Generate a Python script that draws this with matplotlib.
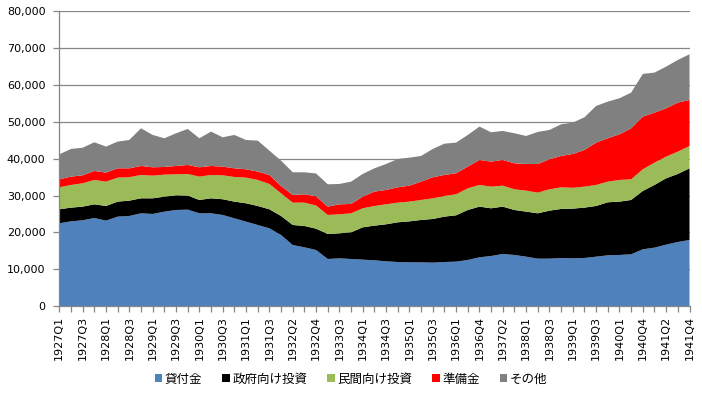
import matplotlib
matplotlib.use("Agg")
import matplotlib.pyplot as plt
from matplotlib.ticker import FuncFormatter, MultipleLocator
from matplotlib.patches import Patch

plt.rcParams['font.family'] = ['Noto Sans CJK JP', 'DejaVu Sans']

categories = [
    "1927Q1", "1927Q2", "1927Q3", "1927Q4",
    "1928Q1", "1928Q2", "1928Q3", "1928Q4",
    "1929Q1", "1929Q2", "1929Q3", "1929Q4",
    "1930Q1", "1930Q2", "1930Q3", "1930Q4",
    "1931Q1", "1931Q2", "1931Q3", "1931Q4",
    "1932Q2", "1932Q3", "1932Q4",
    "1933Q1", "1933Q3", "1933Q4",
    "1934Q1", "1934Q2", "1934Q3", "1934Q4",
    "1935Q1", "1935Q2", "1935Q3", "1935Q4",
    "1936Q1", "1936Q2", "1936Q4",
    "1937Q1", "1937Q2", "1937Q3",
    "1938Q1", "1938Q2", "1938Q3", "1938Q4",
    "1939Q1", "1939Q2", "1939Q3", "1939Q4",
    "1940Q1", "1940Q2", "1940Q4",
    "1941Q1", "1941Q2", "1941Q3", "1941Q4",
]

loans = [22460, 23000, 23280, 23910, 23190, 24270, 24450, 25180, 25000, 25630,
         26080, 26170, 25180, 25180, 24730, 23820, 22910, 22010, 21100, 19290,
         16570, 15940, 15220, 12770, 12950, 12770, 12590, 12410, 12140, 11950,
         11860, 11860, 11770, 11950, 12050, 12500, 13220, 13590, 14130, 13860,
         13400, 12860, 12860, 13040, 12950, 13040, 13400, 13770, 13860, 14040,
         15400, 15850, 16670, 17390, 17930]
gov_inv = [3810, 3720, 3710, 3710, 3980, 4080, 4170, 4070, 4250, 4070,
           3990, 3830, 3620, 4070, 4270, 4530, 4990, 5160, 5170, 5160,
           5440, 5800, 5780, 6790, 6790, 7250, 8780, 9420, 10050, 10780,
           11130, 11510, 11870, 12320, 12590, 13580, 13770, 12950, 12860, 12220,
           12230, 12320, 13040, 13320, 13500, 13680, 13770, 14400, 14490, 14760,
           15850, 17030, 18020, 18480, 19470]
priv_inv = [5970, 6160, 6340, 6620, 6610, 6520, 6380, 6340, 6150, 5980,
            5700, 5860, 6340, 6340, 6500, 6700, 6970, 7070, 6880, 6160,
            6070, 6340, 6300, 5170, 5160, 5160, 5170, 5340, 5430, 5350,
            5360, 5430, 5610, 5620, 5700, 5890, 5890, 5880, 5700, 5620,
            5710, 5610, 5800, 5880, 5650, 5700, 5710, 5610, 5890, 5620,
            5880, 6060, 5890, 6060, 6070]
reserves = [2160, 2260, 2170, 2440, 2450, 2530, 2400, 2450, 2280, 2090,
            2270, 2450, 2540, 2450, 2360, 2350, 2260, 2260, 2440, 1990,
            2080, 2260, 2500, 2260, 2720, 2530, 3160, 3900, 3900, 4160,
            4350, 4980, 5710, 5700, 5710, 5890, 6790, 6800, 6980, 7060,
            7240, 7790, 8150, 8520, 9200, 9970, 11500, 11780, 12400, 13850,
            14310, 13590, 13130, 13320, 12500]
others = [6800, 7520, 7500, 7790, 7070, 7250, 7700, 10230, 8780, 7790,
          8860, 9790, 7880, 9330, 7970, 9060, 7970, 8420, 6610, 6890,
          6160, 5980, 6200, 6070, 5530, 6070, 6170, 6330, 7060, 7700,
          7600, 6980, 7700, 8510, 8330, 8600, 9060, 7970, 7880, 8160,
          7610, 8700, 7970, 8600, 8510, 8870, 9960, 9960, 9790, 9690,
          11600, 10870, 11320, 11590, 12410]

series_names = ["貸付金", "政府向け投資", "民間向け投資", "準備金", "その他"]
colors = ["#4F81BD", "#000000", "#9BBB59", "#FF0000", "#808080"]

fig = plt.figure(figsize=(7.02, 3.99), dpi=100)
ax = fig.add_axes([0.0845, 0.2331, 0.8977, 0.7381])

x = list(range(len(categories)))
ax.stackplot(x, loans, gov_inv, priv_inv, reserves, others,
             colors=colors, linewidth=0, zorder=2)

ax.set_xlim(0, len(categories) - 1)
ax.set_ylim(0, 80000)
ax.yaxis.set_major_locator(MultipleLocator(10000))
ax.yaxis.set_major_formatter(FuncFormatter(lambda v, p: f"{int(v):,}"))
ax.grid(axis='y', color='#868686', linewidth=0.9, zorder=0)
ax.set_axisbelow(True)

ax.set_xticks(x)
ax.set_xticklabels([c if i % 2 == 0 else "" for i, c in enumerate(categories)],
                   rotation=90, fontsize=8, family=['DejaVu Sans'])
for lab in ax.get_yticklabels():
    lab.set_fontsize(8)
    lab.set_family(['DejaVu Sans'])

for s in ['top', 'right']:
    ax.spines[s].set_visible(False)
for s in ['left', 'bottom']:
    ax.spines[s].set_color('#868686')
    ax.spines[s].set_linewidth(0.9)
ax.tick_params(axis='both', colors='#868686', length=4, width=0.9,
               labelcolor='black', direction='out')
ax.tick_params(axis='y', length=4, pad=6)
ax.tick_params(axis='x', pad=3)

handles = [Patch(facecolor=c, edgecolor='none') for c in colors]
fig.legend(handles, series_names, loc='center', ncol=5,
           bbox_to_anchor=(0.5, 1 - 379 / 399), frameon=False,
           fontsize=9, handlelength=0.6, handleheight=0.6,
           handletextpad=0.2, columnspacing=1.6)

fig.savefig("out.png", dpi=100)
